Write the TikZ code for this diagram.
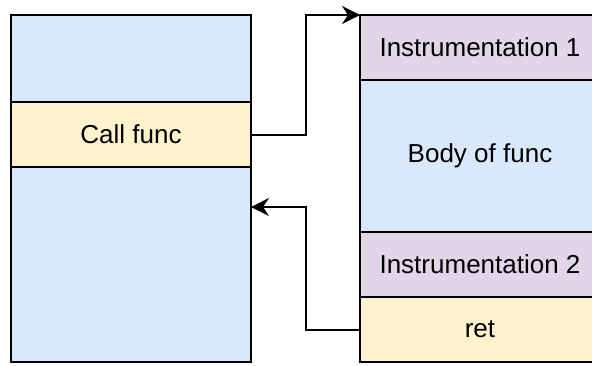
\documentclass[tikz,border=0pt]{standalone}
\usepackage{fontspec}
\setmainfont{Liberation Sans}
\usetikzlibrary{positioning,arrows.meta}
\definecolor{stackblue}{HTML}{DAE8FC}
\definecolor{stackyellow}{HTML}{FFF2CC}
\definecolor{stackpurple}{HTML}{E1D5E7}
\tikzset{
    block/.style={draw, line width=1pt, minimum width=120pt, outer sep=0pt, inner sep=0pt, font=\fontsize{13}{15}\selectfont},
    flow/.style={line width=1pt, -{Stealth[length=9pt,width=9pt,inset=3pt]}}
}
\begin{document}
\begin{tikzpicture}[x=0.5pt,y=-0.5pt]
        \useasboundingbox (0,0) rectangle (592,365);
        \node[block, fill=stackblue, minimum height=43.5pt, anchor=north west] (callertop) at (11,15) {};
        \node[block, fill=stackyellow, minimum height=32.5pt, below=0pt of callertop] (callfunc) {Call func};
        \node[block, fill=stackblue, minimum height=97.5pt, below=0pt of callfunc] (callerbot) {};

        \node[block, fill=stackpurple, minimum height=32.5pt, anchor=north west] (instone) at (360,15) {Instrumentation 1};
        \node[block, fill=stackblue, minimum height=76pt, below=0pt of instone] (body) {Body of func};
        \node[block, fill=stackpurple, minimum height=32.5pt, below=0pt of body] (insttwo) {Instrumentation 2};
        \node[block, fill=stackyellow, minimum height=32.5pt, below=0pt of insttwo] (ret) {ret};

        \coordinate (backpt) at ([yshift=-20pt]callerbot.north east);
        \draw[flow] (callfunc.east) -- ++(27.5pt,0) |- (instone.north west);
        \draw[flow] (ret.west) -- ++(-27pt,0) |- (backpt);
        
    \end{tikzpicture}
\end{document}
